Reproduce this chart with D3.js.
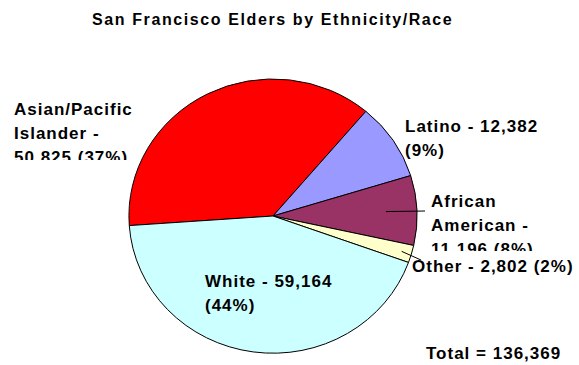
<!DOCTYPE html>
<html>
<head>
<meta charset="utf-8">
<script src="https://cdn.jsdelivr.net/npm/d3@7"></script>
<style>
  html, body { margin: 0; padding: 0; background: #fff; }
  svg { display: block; }
  text { font-family: "Liberation Sans", Arial, sans-serif; font-weight: bold; fill: #000; }
</style>
</head>
<body>
<div id="chart"></div>
<script>
// Elderly population of San Francisco by ethnicity/race
const categories = ["Asian/Pacific Islander", "Latino", "African American", "Other", "White"];
const values = [50825, 12382, 11196, 2802, 59164];
const percents = [37, 9, 8, 2, 44];
const colors = ["#FF0000", "#9999FF", "#993366", "#FFFFCC", "#CCFFFF"];
const titleText = "San Francisco Elders by Ethnicity/Race";
const total = 136369;

// Label text broken into the lines the chart shows
const labelLines = [
  ["Asian/Pacific", "Islander -", "50,825 (37%)"],
  ["Latino - 12,382", "(9%)"],
  ["African", "American -", "11,196 (8%)"],
  ["Other - 2,802 (2%)"],
  ["White - 59,164", "(44%)"]
];

// Layout
const W = 579, H = 365;
const cx = 273, cy = 216, rx = 144, ry = 137;
const startDeg = 266;
const lineGap = 24;
// label boxes: x, first baseline, optional clip bottom
const labelLayout = [
  { x: 14, y: 115, clipBottom: 160 },
  { x: 405, y: 131.5 },
  { x: 431, y: 206.5, clipBottom: 251 },
  { x: 412, y: 272 },
  { x: 205, y: 286.5 }
];
// leader lines: radial fraction of the start point, end point
const leaders = [
  { i: 2, r: 0.785, to: [425, 211] },
  { i: 3, r: 0.93, to: [421, 260] }
];

const svg = d3.select("#chart").append("svg")
  .attr("width", W).attr("height", H)
  .attr("viewBox", `0 0 ${W} ${H}`);

svg.append("rect").attr("width", W).attr("height", H).attr("fill", "#fff");

// Title
svg.append("text")
  .attr("x", 92).attr("y", 25)
  .style("font-size", "16px")
  .style("letter-spacing", "1.6px")
  .text(titleText);

// Pie, drawn on a unit circle and stretched into the ellipse
const toRad = d => d * Math.PI / 180;
const pie = d3.pie().sort(null)
  .startAngle(toRad(startDeg))
  .endAngle(toRad(startDeg + 360));
const arcs = pie(values);
const arc = d3.arc().innerRadius(0).outerRadius(1);

const g = svg.append("g").attr("transform", `translate(${cx},${cy}) scale(${rx},${ry})`);
g.selectAll("path").data(arcs).join("path")
  .attr("d", arc)
  .attr("fill", (d, i) => colors[i])
  .attr("stroke", "#000")
  .attr("stroke-width", 1)
  .attr("vector-effect", "non-scaling-stroke")
  .attr("stroke-linejoin", "round");

// Leader lines
leaders.forEach(l => {
  const a = arcs[l.i];
  const mid = (a.startAngle + a.endAngle) / 2;
  const x0 = cx + rx * l.r * Math.sin(mid);
  const y0 = cy - ry * l.r * Math.cos(mid);
  svg.append("line")
    .attr("x1", x0).attr("y1", y0)
    .attr("x2", l.to[0]).attr("y2", l.to[1])
    .attr("stroke", "#000").attr("stroke-width", 1);
});

// Data labels
const defs = svg.append("defs");
labelLines.forEach((lines, i) => {
  const L = labelLayout[i];
  const t = svg.append("text")
    .style("font-size", "17px")
    .style("letter-spacing", "1px");
  if (L.clipBottom) {
    const id = "clip" + i;
    defs.append("clipPath").attr("id", id)
      .append("rect")
      .attr("x", 0).attr("y", L.y - 20)
      .attr("width", W).attr("height", L.clipBottom - (L.y - 20));
    t.attr("clip-path", `url(#${id})`);
  }
  lines.forEach((s, k) => {
    t.append("tspan").attr("x", L.x).attr("y", L.y + k * lineGap).text(s);
  });
});

// Total
svg.append("text")
  .attr("x", 426).attr("y", 359)
  .style("font-size", "17px")
  .style("letter-spacing", "1px")
  .text("Total = " + d3.format(",")(total));
</script>
</body>
</html>
